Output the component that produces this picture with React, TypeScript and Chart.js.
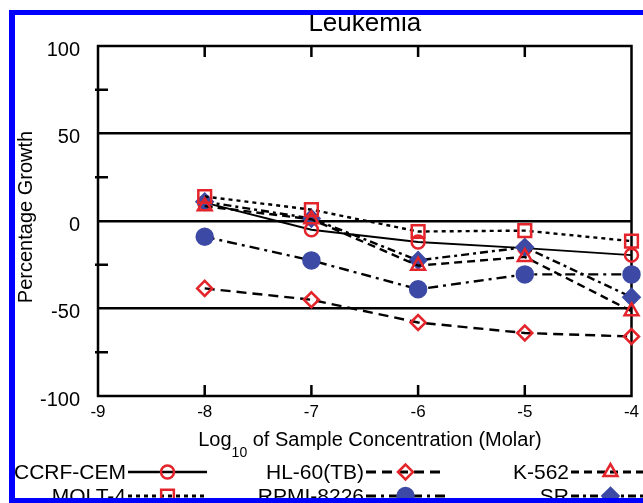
import React, { useEffect, useRef } from 'react';
import { Chart, registerables } from 'chart.js';

Chart.register(...registerables);

// ---- data ----
const concentrations = [-8, -7, -6, -5, -4];
const xTicks = [-9, -8, -7, -6, -5, -4];
const yMajorTicks = [-100, -50, 0, 50, 100];
const yMinorTicks = [-75, -25, 25, 75];
const yGridValues = [-50, 0, 50];
const seriesLabels = ['CCRF-CEM', 'HL-60(TB)', 'K-562', 'MOLT-4', 'RPMI-8226', 'SR'];
const ccrfCem = [10.5, -5, -12, -15.5, -19.5];
const hl60 = [-38.5, -45, -58, -64, -66];
const k562 = [8.5, 1, -25.5, -20.5, -51.5];
const molt4 = [14, 6.5, -6, -5.5, -11.5];
const rpmi8226 = [-9, -22.5, -39, -30.5, -30.5];
const sr = [11, 1.5, -22.5, -15, -43.5];
const chartTitle = 'Leukemia';
const yTitle = 'Percentage Growth';
const xTitleParts = ['Log', '10', ' of Sample Concentration (Molar)'];

const RED = '#e3242b';
const BLUE = '#3c4aa5';
const FONT = '"Liberation Sans", Arial, Helvetica, sans-serif';

const seriesValues = [ccrfCem, hl60, k562, molt4, rpmi8226, sr];
const seriesStyles = [
  { dash: [], width: 2, point: 'circle', r: 6.5, color: RED, filled: false, order: 10 },
  { dash: [10, 6], width: 2.4, point: 'rectRot', r: 7.5, color: RED, filled: false, order: 0 },
  { dash: [8, 5], width: 2.4, point: 'triangle', r: 8, color: RED, filled: false, order: 0 },
  { dash: [4, 4], width: 2.4, point: 'rect', r: 9, color: RED, filled: false, order: 0 },
  { dash: [10, 5, 3, 5], width: 2.4, point: 'circle', r: 8, color: BLUE, filled: true, order: 0 },
  { dash: [8, 4, 3, 4], width: 2.4, point: 'rectRot', r: 8, color: BLUE, filled: true, order: 0 },
];

function drawMarker(ctx: CanvasRenderingContext2D, style: string, x: number, y: number, r: number, color: string, filled: boolean) {
  ctx.save();
  ctx.setLineDash([]);
  ctx.beginPath();
  if (style === 'circle') {
    ctx.arc(x, y, r, 0, Math.PI * 2);
  } else if (style === 'rect') {
    const s = r * Math.SQRT1_2;
    ctx.rect(x - s, y - s, 2 * s, 2 * s);
  } else if (style === 'rectRot') {
    ctx.moveTo(x - r, y);
    ctx.lineTo(x, y - r);
    ctx.lineTo(x + r, y);
    ctx.lineTo(x, y + r);
    ctx.closePath();
  } else if (style === 'triangle') {
    ctx.moveTo(x, y - r);
    ctx.lineTo(x + 0.866 * r, y + 0.5 * r);
    ctx.lineTo(x - 0.866 * r, y + 0.5 * r);
    ctx.closePath();
  }
  if (filled) {
    ctx.fillStyle = color;
    ctx.fill();
  }
  ctx.strokeStyle = color;
  ctx.lineWidth = 2.5;
  ctx.stroke();
  ctx.restore();
}

const framePlugin = {
  id: 'frameAndTicks',
  beforeDatasetsDraw(chart: any) {
    const { ctx, chartArea } = chart;
    const xs = chart.scales.x;
    const ys = chart.scales.y;
    ctx.save();
    ctx.strokeStyle = '#000';
    ctx.lineWidth = 2.5;
    ctx.setLineDash([]);
    ctx.strokeRect(chartArea.left, chartArea.top, chartArea.right - chartArea.left, chartArea.bottom - chartArea.top);
    xTicks.forEach((v) => {
      if (v === xTicks[0] || v === xTicks[xTicks.length - 1]) return;
      const px = xs.getPixelForValue(v);
      ctx.beginPath();
      ctx.moveTo(px, chartArea.top);
      ctx.lineTo(px, chartArea.top + 11);
      ctx.moveTo(px, chartArea.bottom);
      ctx.lineTo(px, chartArea.bottom - 11);
      ctx.stroke();
    });
    yMinorTicks.forEach((v) => {
      const py = ys.getPixelForValue(v);
      ctx.beginPath();
      ctx.moveTo(chartArea.left - 3, py);
      ctx.lineTo(chartArea.left + 10, py);
      ctx.stroke();
    });
    ctx.restore();
  },
  afterDraw(chart: any) {
    const { ctx, chartArea } = chart;
    ctx.save();
    ctx.fillStyle = '#000';
    ctx.font = `26px ${FONT}`;
    ctx.textAlign = 'center';
    ctx.textBaseline = 'alphabetic';
    ctx.fillText(chartTitle, (chartArea.left + chartArea.right) / 2, 31);
    ctx.save();
    ctx.translate(26, 217);
    ctx.rotate(-Math.PI / 2);
    ctx.font = `20px ${FONT}`;
    ctx.textAlign = 'center';
    ctx.textBaseline = 'middle';
    ctx.fillText(yTitle, 0, 0);
    ctx.restore();
    const mainFont = `20px ${FONT}`;
    const subFont = `14px ${FONT}`;
    ctx.font = mainFont;
    const w0 = ctx.measureText(xTitleParts[0]).width;
    const w2 = ctx.measureText(xTitleParts[2]).width;
    ctx.font = subFont;
    const w1 = ctx.measureText(xTitleParts[1]).width;
    const total = w0 + w1 + w2;
    let sx = 370 - total / 2;
    ctx.textAlign = 'left';
    ctx.font = mainFont;
    ctx.fillText(xTitleParts[0], sx, 446);
    sx += w0;
    ctx.font = subFont;
    ctx.fillText(xTitleParts[1], sx, 457);
    sx += w1;
    ctx.font = mainFont;
    ctx.fillText(xTitleParts[2], sx, 446);
    const colRight = [126, 364, 569];
    const rowY = [472, 496];
    const sampleLen = 79;
    chart.data.datasets.forEach((ds: any, i: number) => {
      const col = i % 3;
      const row = Math.floor(i / 3);
      const tx = colRight[col];
      const ty = rowY[row];
      ctx.font = `21px ${FONT}`;
      ctx.textAlign = 'right';
      ctx.textBaseline = 'middle';
      ctx.fillStyle = '#000';
      ctx.fillText(ds.label, tx, ty + 1);
      const st = seriesStyles[i];
      ctx.save();
      ctx.strokeStyle = '#000';
      ctx.lineWidth = st.width + 0.6;
      ctx.setLineDash(st.dash);
      ctx.beginPath();
      ctx.moveTo(tx + 2, ty);
      ctx.lineTo(tx + 2 + sampleLen, ty);
      ctx.stroke();
      ctx.restore();
      drawMarker(ctx, st.point, tx + 2 + sampleLen / 2, ty, st.r, st.color, st.filled);
    });
    ctx.restore();
  },
};

export default function App() {
  const canvasRef = useRef<HTMLCanvasElement | null>(null);

  useEffect(() => {
    const canvas = canvasRef.current;
    if (!canvas) return;
    const datasets = seriesLabels.map((label, i) => {
      const st = seriesStyles[i];
      return {
        label,
        data: concentrations.map((x, j) => ({ x, y: seriesValues[i][j] })),
        borderColor: '#000',
        borderWidth: st.width,
        borderDash: st.dash,
        tension: 0,
        fill: false,
        pointStyle: st.point,
        pointRadius: st.r,
        pointHoverRadius: st.r,
        pointBorderColor: st.color,
        pointBackgroundColor: st.filled ? st.color : 'rgba(0,0,0,0)',
        pointBorderWidth: 2.5,
        order: st.order,
        clip: false,
      };
    });
    const chart = new Chart(canvas, {
      type: 'line',
      data: { datasets } as any,
      options: {
        animation: false,
        responsive: false,
        maintainAspectRatio: false,
        devicePixelRatio: 1,
        events: [],
        layout: { padding: { top: 46, right: 3, left: 0, bottom: 0 } },
        plugins: {
          legend: { display: false },
          title: { display: false },
          tooltip: { enabled: false },
        },
        scales: {
          x: {
            type: 'linear',
            min: xTicks[0],
            max: xTicks[xTicks.length - 1],
            afterBuildTicks: (s: any) => {
              s.ticks = xTicks.map((v) => ({ value: v }));
            },
            ticks: {
              font: { family: FONT, size: 17 },
              color: '#000',
              padding: 6,
              maxRotation: 0,
              autoSkip: false,
              callback: (v: any) => String(v),
            },
            grid: { display: false, drawTicks: false },
            border: { display: false },
            afterFit: (s: any) => {
              s.height = 107;
              s.paddingLeft = 0;
              s.paddingRight = 0;
            },
          },
          y: {
            type: 'linear',
            min: yMajorTicks[0],
            max: yMajorTicks[yMajorTicks.length - 1],
            afterBuildTicks: (s: any) => {
              s.ticks = yMajorTicks.map((v) => ({ value: v }));
            },
            ticks: {
              font: { family: FONT, size: 20 },
              color: '#000',
              padding: 18,
              labelOffset: 4,
              callback: (v: any) => String(v),
            },
            grid: {
              drawTicks: false,
              lineWidth: 2.5,
              color: (c: any) => (c.tick && yGridValues.includes(c.tick.value) ? '#000' : 'rgba(0,0,0,0)'),
            },
            border: { display: false },
            afterFit: (s: any) => {
              s.width = 98;
              s.paddingTop = 0;
              s.paddingBottom = 0;
            },
          },
        },
      } as any,
      plugins: [framePlugin],
    });
    return () => chart.destroy();
  }, []);

  return (
    <div style={{ position: 'fixed', left: 0, top: 0, width: 643, height: 503, overflow: 'hidden', background: '#fff' }}>
      <canvas ref={canvasRef} width={643} height={503} style={{ position: 'absolute', left: 0, top: 0, display: 'block' }} />
      <div
        style={{
          position: 'absolute',
          left: 9,
          top: 10,
          width: 660,
          height: 493,
          boxSizing: 'border-box',
          borderStyle: 'solid',
          borderColor: '#0000ff',
          borderWidth: '5px 0 5px 6px',
          pointerEvents: 'none',
        }}
      />
    </div>
  );
}
